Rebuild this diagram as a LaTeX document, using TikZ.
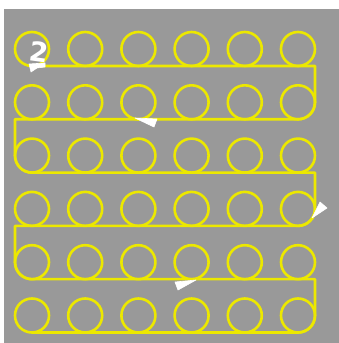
\documentclass[tikz,border=0pt]{standalone}
\usepackage{fontspec}
\setmainfont{DejaVu Sans}
\definecolor{bggray}{RGB}{153,153,153}
\definecolor{coilyellow}{RGB}{236,232,0}
\begin{document}
\begin{tikzpicture}[x=1pt,y=1pt,
  coil/.style={circle,draw=coilyellow,line width=2.6pt,minimum size=34pt,inner sep=0pt,outer sep=0pt},
  wire/.style={draw=coilyellow,line width=2.6pt,line join=round},
  whitemark/.style={fill=white,draw=white,line width=0.6pt,line join=round}]
\useasboundingbox (0,0) rectangle (339,343);
\fill[white] (0,0) rectangle (339,343);
\fill[bggray] (4,0) rectangle (339,334);
\foreach \i in {1,...,6}{
  \foreach \j in {1,...,6}{
    \node[coil] (c\i\j) at ({32+53.2*(\j-1)},{294-53.3*(\i-1)}) {};
  }
}
\draw[wire] (c11.south) -- (c11.south -| c16.east) -- (c26.east)
  arc[start angle=0,end angle=-90,radius=17] -- (c21.south -| c21.west) -- (c31.west)
  arc[start angle=180,end angle=270,radius=17] -- (c31.south -| c36.east) -- (c46.east)
  arc[start angle=0,end angle=-90,radius=17] -- (c41.south -| c41.west) -- (c51.west)
  arc[start angle=180,end angle=270,radius=17] -- (c51.south -| c56.east) -- (c66.east)
  arc[start angle=0,end angle=-90,radius=17] -- (c61.south);
% white marks
\node[text=white,font=\fontsize{27}{27}\selectfont\bfseries,inner sep=0pt,rotate=-8] (two) at (39.5,291) {2};
\path[whitemark] (29,279) -- (45,280) -- (45,276) -- (37,275) -- (31,271) -- cycle;
\path[whitemark] (135,225) -- (157,224) -- (154,216) -- cycle;
\path[whitemark] (312,125) -- (320,141) -- (327,135) -- cycle;
\path[whitemark] (175,61) -- (178,53) -- (196,63) -- cycle;
\end{tikzpicture}
\end{document}
